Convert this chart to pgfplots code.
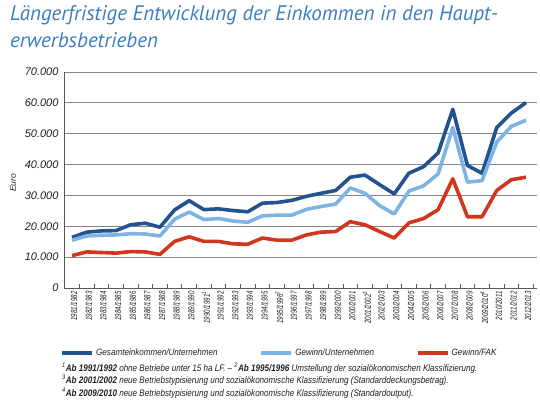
\documentclass[border=0pt]{standalone}
\usepackage{fontspec}
\usepackage{pgfplots}
\pgfplotsset{compat=1.18}
\setmainfont{Liberation Sans}
\newfontfamily\condfont[FakeStretch=0.85]{Liberation Sans}
\newfontfamily\legfont[FakeStretch=0.88]{Liberation Sans}
\newfontfamily\xlabfont[FakeStretch=0.7]{Liberation Sans}
\newfontfamily\titlefont{PT Sans}
\definecolor{darkblue}{HTML}{22528F}
\definecolor{lightblue}{HTML}{7DB4E2}
\definecolor{redline}{HTML}{D2361E}
\definecolor{titleblue}{HTML}{3A7DC2}
\definecolor{gridgray}{HTML}{858585}
\definecolor{axisgray}{HTML}{5A5A5A}
\definecolor{textgray}{HTML}{1E1E1E}
\begin{document}
\begin{tikzpicture}[x=1pt,y=1pt]
\useasboundingbox (0,0) rectangle (540,399);
\begin{axis}[
  at={(64pt,111pt)}, anchor=south west,
  scale only axis, width=473pt, height=216pt,
  xmin=-0.55, xmax=31.75, ymin=0, ymax=70000,
  axis x line*=bottom, axis y line*=left,
  axis line style={draw=axisgray, line width=0.9pt},
  ymajorgrids, grid style={draw=gridgray, line width=0.8pt},
  ytick={0,10000,...,70000},
  scaled y ticks=false,
  ytick style={draw=none},
  yticklabel style={font=\fontsize{11}{12}\selectfont\itshape, text=textgray,
    /pgf/number format/1000 sep={.}, xshift=-2pt},
  /pgf/number format/assume math mode=true,
  xtick={0,...,31},
  major x tick style={draw=none},
  minor xtick={-0.5,0.5,...,31.5},
  minor x tick style={draw=axisgray, line width=0.8pt},
  minor tick length=4pt,
  tick align=inside,
  xticklabels={1981/1982,1982/1983,1983/1984,1984/1985,1985/1986,1986/1987,1987/1988,1988/1989,1989/1990,1990/1991\textsuperscript{1},1991/1992,1992/1993,1993/1994,1994/1995,1995/1996\textsuperscript{2},1996/1997,1997/1998,1998/1999,1999/2000,2000/2001,2001/2002\textsuperscript{3},2002/2003,2003/2004,2004/2005,2005/2006,2006/2007,2007/2008,2008/2009,2009/2010\textsuperscript{4},2010/2011,2011/2012,2012/2013},
  xticklabel style={rotate=90, anchor=east, font=\fontsize{8.8}{9}\selectfont\xlabfont\itshape, text=textgray, yshift=-2pt},
  legend style={at={(-0.014,-0.30)}, anchor=west, draw=none, fill=none,
    font=\fontsize{9.2}{11}\selectfont\legfont\itshape, text=textgray,
    /tikz/every even column/.append style={column sep=40pt}},
  legend columns=3,
  legend cell align=left,
  legend image code/.code={\draw[#1] (0pt,0pt) -- (30pt,0pt);},
  every axis plot/.append style={line width=3.6pt, line join=round},
]
\addplot[darkblue] coordinates {
(0,16400)(1,18100)(2,18500)(3,18600)(4,20500)(5,21000)(6,19700)(7,25300)
(8,28300)(9,25400)(10,25650)(11,25100)(12,24700)(13,27500)(14,27700)(15,28400)
(16,29700)(17,30700)(18,31600)(19,35900)(20,36600)(21,33500)(22,30500)(23,37200)
(24,39300)(25,43800)(26,57900)(27,39700)(28,37200)(29,52000)(30,56700)(31,60100)};
\addlegendentry{Gesamteinkommen/Unternehmen}
\addplot[lightblue] coordinates {
(0,15500)(1,16850)(2,17100)(3,17200)(4,17600)(5,17500)(6,16850)(7,22300)
(8,24600)(9,22200)(10,22500)(11,21700)(12,21300)(13,23400)(14,23600)(15,23600)
(16,25500)(17,26400)(18,27200)(19,32400)(20,30700)(21,26700)(22,24000)(23,31400)
(24,33100)(25,37000)(26,52000)(27,34300)(28,34800)(29,47300)(30,52400)(31,54400)};
\addlegendentry{Gewinn/Unternehmen}
\addplot[redline] coordinates {
(0,10500)(1,11700)(2,11500)(3,11300)(4,11800)(5,11700)(6,10900)(7,15100)
(8,16600)(9,15100)(10,15100)(11,14300)(12,14200)(13,16200)(14,15500)(15,15500)
(16,17200)(17,18100)(18,18300)(19,21500)(20,20500)(21,18300)(22,16200)(23,21100)
(24,22500)(25,25400)(26,35400)(27,23100)(28,23100)(29,31600)(30,35100)(31,35900)};
\addlegendentry{Gewinn/FAK}
\end{axis}
\node[anchor=base west, inner sep=0pt, text=titleblue, font=\fontsize{21}{24}\selectfont\titlefont\itshape] at (10,378) {Längerfristige Entwicklung der Einkommen in den Haupt-};
\node[anchor=base west, inner sep=0pt, text=titleblue, font=\fontsize{21}{24}\selectfont\titlefont\itshape] at (10,351) {erwerbsbetrieben};
\node[rotate=90, inner sep=0pt, text=textgray, font=\fontsize{8.5}{10}\selectfont\itshape] at (13,216) {Euro};
\begin{scope}[every node/.style={anchor=base west, inner sep=0pt, text=textgray, font=\fontsize{9.5}{10}\selectfont\condfont\itshape}]
\node at (62,28) {\textsuperscript{1}\textbf{Ab 1991/1992} ohne Betriebe unter 15 ha LF. – \textsuperscript{2}\textbf{Ab 1995/1996} Umstellung der sozialökonomischen Klassifizierung.};
\node at (62,15.5) {\textsuperscript{3}\textbf{Ab 2001/2002} neue Betriebstypisierung und sozialökonomische Klassifizierung (Standarddeckungsbetrag).};
\node at (62,3) {\textsuperscript{4}\textbf{Ab 2009/2010} neue Betriebstypisierung und sozialökonomische Klassifizierung (Standardoutput).};
\end{scope}
\end{tikzpicture}
\end{document}
